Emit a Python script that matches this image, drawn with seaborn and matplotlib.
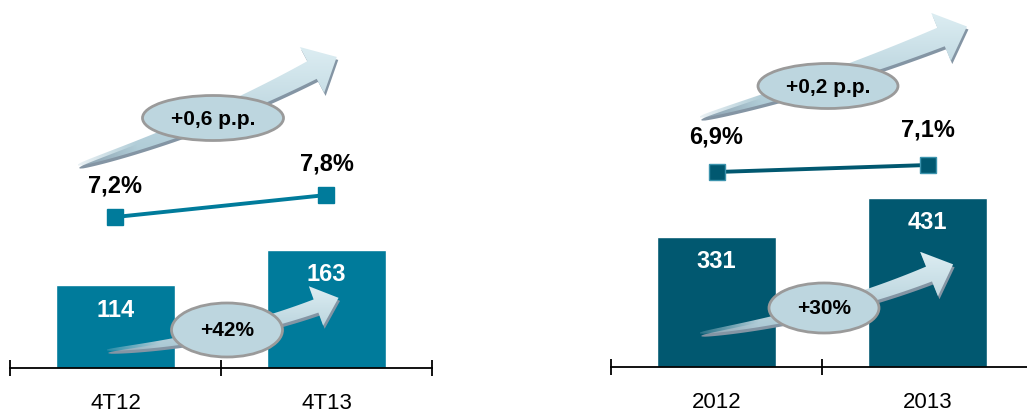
import numpy as np
import pandas as pd
import seaborn as sns
import matplotlib.pyplot as plt
from matplotlib.patches import Polygon, Ellipse
from matplotlib.colors import to_rgb

# data
periods_q = ['4T12', '4T13']
values_q = [114, 163]
margin_q = [7.2, 7.8]
growth_q = '+42%'
margin_change_q = '+0,6 p.p.'

periods_y = ['2012', '2013']
values_y = [331, 431]
margin_y = [6.9, 7.1]
growth_y = '+30%'
margin_change_y = '+0,2 p.p.'

sns.set_style('white')
plt.rcParams['font.family'] = ['Liberation Sans', 'DejaVu Sans']

W, H = 1027, 412
fig = plt.figure(figsize=(W / 100, H / 100), dpi=100)


def px_axes(x0, x1, y_base):
    return fig.add_axes([x0 / W, (H - y_base) / H, (x1 - x0) / W, y_base / H])


def fmt(v):
    return f'{v:.1f}%'.replace('.', ',')


def draw_panel(ax, periods, values, margins, bar_color, line_color, edge_color,
               bar_top, m_lo, m_hi, lab_off):
    df = pd.DataFrame({'periodo': periods, 'valor': values})
    sns.barplot(data=df, x='periodo', y='valor', color=bar_color, saturation=1,
                width=0.565, ax=ax)
    ax.set_xlim(-0.5, 1.5)
    ax.set_ylim(0, bar_top)
    for i, v in enumerate(values):
        ax.annotate(str(v), (i, v), xytext=(0, -18), textcoords='offset points',
                    ha='center', va='center', color='white', fontsize=17,
                    fontweight='bold')
    for s in ['left', 'right', 'top']:
        ax.spines[s].set_visible(False)
    ax.spines['bottom'].set_color('black')
    ax.spines['bottom'].set_linewidth(1.3)
    ax.set_yticks([])
    ax.set_xlabel('')
    ax.set_ylabel('')
    ax.set_xticks([0, 1], periods)
    ax.set_xticks([-0.5, 0.5, 1.5], minor=True)
    ax.tick_params(axis='x', which='major', length=0, pad=18, labelsize=16,
                   colors='black')
    ax.tick_params(axis='x', which='minor', length=11, width=1.3,
                   direction='inout', color='black', bottom=True)

    ax2 = ax.twinx()
    sns.lineplot(x=np.arange(len(periods)), y=margins, ax=ax2, color=line_color,
                 lw=2.8, marker='s', markersize=12, markeredgecolor=edge_color,
                 markeredgewidth=1)
    ax2.set_xlim(-0.5, 1.5)
    ax2.set_ylim(m_lo, m_hi)
    ax2.axis('off')
    for i, m in enumerate(margins):
        ax2.annotate(fmt(m), (i, m), xytext=(0, lab_off), textcoords='offset points',
                     ha='center', va='center', fontsize=17, fontweight='bold',
                     color='black')


ax_l = px_axes(10, 432, 368)
draw_panel(ax_l, periods_q, values_q, margin_q, '#007B9B', '#007B9B', '#007B9B',
           507.6, 3.082, 13.118, 22)

ax_r = px_axes(611, 1033, 367)
draw_panel(ax_r, periods_y, values_y, margin_y, '#015870', '#015870', '#3C93AD',
           934, 1.329, 11.815, 25)

# overlay for the growth arrows
ov = fig.add_axes([0, 0, 1, 1], zorder=5)
ov.set_xlim(0, W)
ov.set_ylim(H, 0)
ov.axis('off')
ov.patch.set_alpha(0)


def curved_arrow(p0, p1, p2, head_len, shaft_w, head_w):
    p0, p1, p2 = np.array(p0, float), np.array(p1, float), np.array(p2, float)
    t = np.linspace(0, 1, 80)[:, None]
    pts = (1 - t) ** 2 * p0 + 2 * (1 - t) * t * p1 + t ** 2 * p2
    d = 2 * (1 - t) * (p1 - p0) + 2 * t * (p2 - p1)
    d = d / np.linalg.norm(d, axis=1)[:, None]
    nrm = np.column_stack([-d[:, 1], d[:, 0]])
    w = shaft_w * (0.06 + 0.94 * t[:, 0] ** 0.55) / 2
    upper = pts + nrm * w[:, None]
    lower = pts - nrm * w[:, None]
    tip = p2 + d[-1] * head_len
    h1 = p2 + nrm[-1] * head_w / 2
    h2 = p2 - nrm[-1] * head_w / 2
    poly = np.vstack([upper, h1, tip, h2, lower[::-1]])
    ov.add_patch(Polygon(poly + [1.5, 3], closed=True, facecolor='#8495A4',
                         edgecolor='none', zorder=1))
    clip = Polygon(poly, closed=True, facecolor='none', edgecolor='none', zorder=2)
    ov.add_patch(clip)
    xmin, ymin = poly.min(axis=0)
    xmax, ymax = poly.max(axis=0)
    ny, nx = 60, 120
    yy = np.linspace(0, 1, ny)[:, None]
    xx = np.linspace(0, 1, nx)[None, :]
    c1, c2 = np.array(to_rgb('#DCEDF2')), np.array(to_rgb('#A9C7D3'))
    img = np.zeros((ny, nx, 4))
    for k in range(3):
        img[..., k] = c1[k] + (c2[k] - c1[k]) * yy
    img[..., 3] = np.clip(0.25 + xx / 0.3, 0, 1)
    im = ov.imshow(img, extent=[xmin, xmax, ymax, ymin], origin='upper',
                   aspect='auto', zorder=2, interpolation='bilinear')
    im.set_clip_path(clip)


def bubble(cx, cy, w, h, text):
    ov.add_patch(Ellipse((cx, cy), w, h, facecolor='#BDD6DF', edgecolor='#9A9A9A',
                         lw=2, zorder=3))
    ov.text(cx, cy + 1, text, ha='center', va='center', fontsize=15,
            fontweight='bold', color='black', zorder=4)


curved_arrow((78, 165), (206, 126), (312, 70), 28, 20, 52)
curved_arrow((700, 117), (830, 82), (941, 37), 28, 20, 52)
curved_arrow((107, 350), (222, 340), (316, 306), 24, 14, 42)
curved_arrow((700, 333), (827, 315), (929, 274), 26, 16, 48)

bubble(213, 118, 141, 45, margin_change_q)
bubble(828, 86, 140, 45, margin_change_y)
bubble(227, 330, 111, 54, growth_q)
bubble(824, 308, 110, 50, growth_y)

ov.set_xlim(0, W)
ov.set_ylim(H, 0)

fig.savefig('out.png', dpi=100)
